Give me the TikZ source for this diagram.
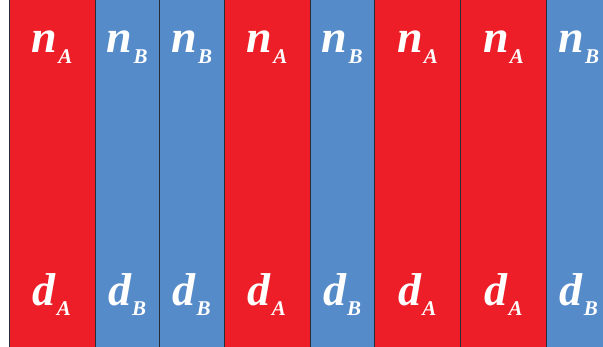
\documentclass[tikz,border=0pt]{standalone}
\usepackage{fontspec}
\setmainfont{Liberation Serif}[
    BoldFont={Liberation Serif Bold},
    BoldItalicFont={Liberation Serif Bold Italic}
]
\usetikzlibrary{positioning}
\definecolor{layerA}{RGB}{237,30,39}
\definecolor{layerB}{RGB}{85,139,201}
\definecolor{seam}{RGB}{38,44,56}
\newcommand{\layerlab}[2]{#1\kern1pt\raisebox{-0.22em}{\fontsize{21}{21}\selectfont #2}}
\tikzset{
    stripe/.style={
        rectangle,
        draw=seam,
        line width=0.9pt,
        minimum height=380pt,
        inner sep=0pt,
        outer sep=0pt
    },
    stripeA/.style={stripe, fill=layerA, minimum width=86pt},
    stripeB/.style={stripe, fill=layerB, minimum width=64.5pt},
    lab/.style={
        text=white,
        font=\bfseries\itshape\fontsize{46}{46}\selectfont,
        inner sep=0pt,
        anchor=base
    }
}

\begin{document}
\begin{tikzpicture}[x=1pt, y=1pt]
\useasboundingbox (0,0) rectangle (603,346);

% layer stack, left to right
\node[stripeA] (s1) at (52,173) {};
\node[stripeB, right=0pt of s1] (s2) {};
\node[stripeB, right=0pt of s2] (s3) {};
\node[stripeA, right=0pt of s3] (s4) {};
\node[stripeB, right=0pt of s4] (s5) {};
\node[stripeA, right=0pt of s5] (s6) {};
\node[stripeA, right=0pt of s6] (s7) {};
\node[stripeB, right=0pt of s7] (s8) {};

% index labels (top row)
\node[lab] (n1) at ([yshift=120pt]s1.center) {\layerlab{n}{A}};
\node[lab] (n2) at ([yshift=120pt]s2.center) {\layerlab{n}{B}};
\node[lab] (n3) at ([yshift=120pt]s3.center) {\layerlab{n}{B}};
\node[lab] (n4) at ([yshift=120pt]s4.center) {\layerlab{n}{A}};
\node[lab] (n5) at ([yshift=120pt]s5.center) {\layerlab{n}{B}};
\node[lab] (n6) at ([yshift=120pt]s6.center) {\layerlab{n}{A}};
\node[lab] (n7) at ([yshift=120pt]s7.center) {\layerlab{n}{A}};
\node[lab] (n8) at ([yshift=120pt]s8.center) {\layerlab{n}{B}};

% thickness labels (bottom row)
\node[lab] (d1) at ([yshift=-132pt]s1.center) {\layerlab{d}{A}};
\node[lab] (d2) at ([yshift=-132pt]s2.center) {\layerlab{d}{B}};
\node[lab] (d3) at ([yshift=-132pt]s3.center) {\layerlab{d}{B}};
\node[lab] (d4) at ([yshift=-132pt]s4.center) {\layerlab{d}{A}};
\node[lab] (d5) at ([yshift=-132pt]s5.center) {\layerlab{d}{B}};
\node[lab] (d6) at ([yshift=-132pt]s6.center) {\layerlab{d}{A}};
\node[lab] (d7) at ([yshift=-132pt]s7.center) {\layerlab{d}{A}};
\node[lab] (d8) at ([yshift=-132pt]s8.center) {\layerlab{d}{B}};

\end{tikzpicture}
\end{document}
